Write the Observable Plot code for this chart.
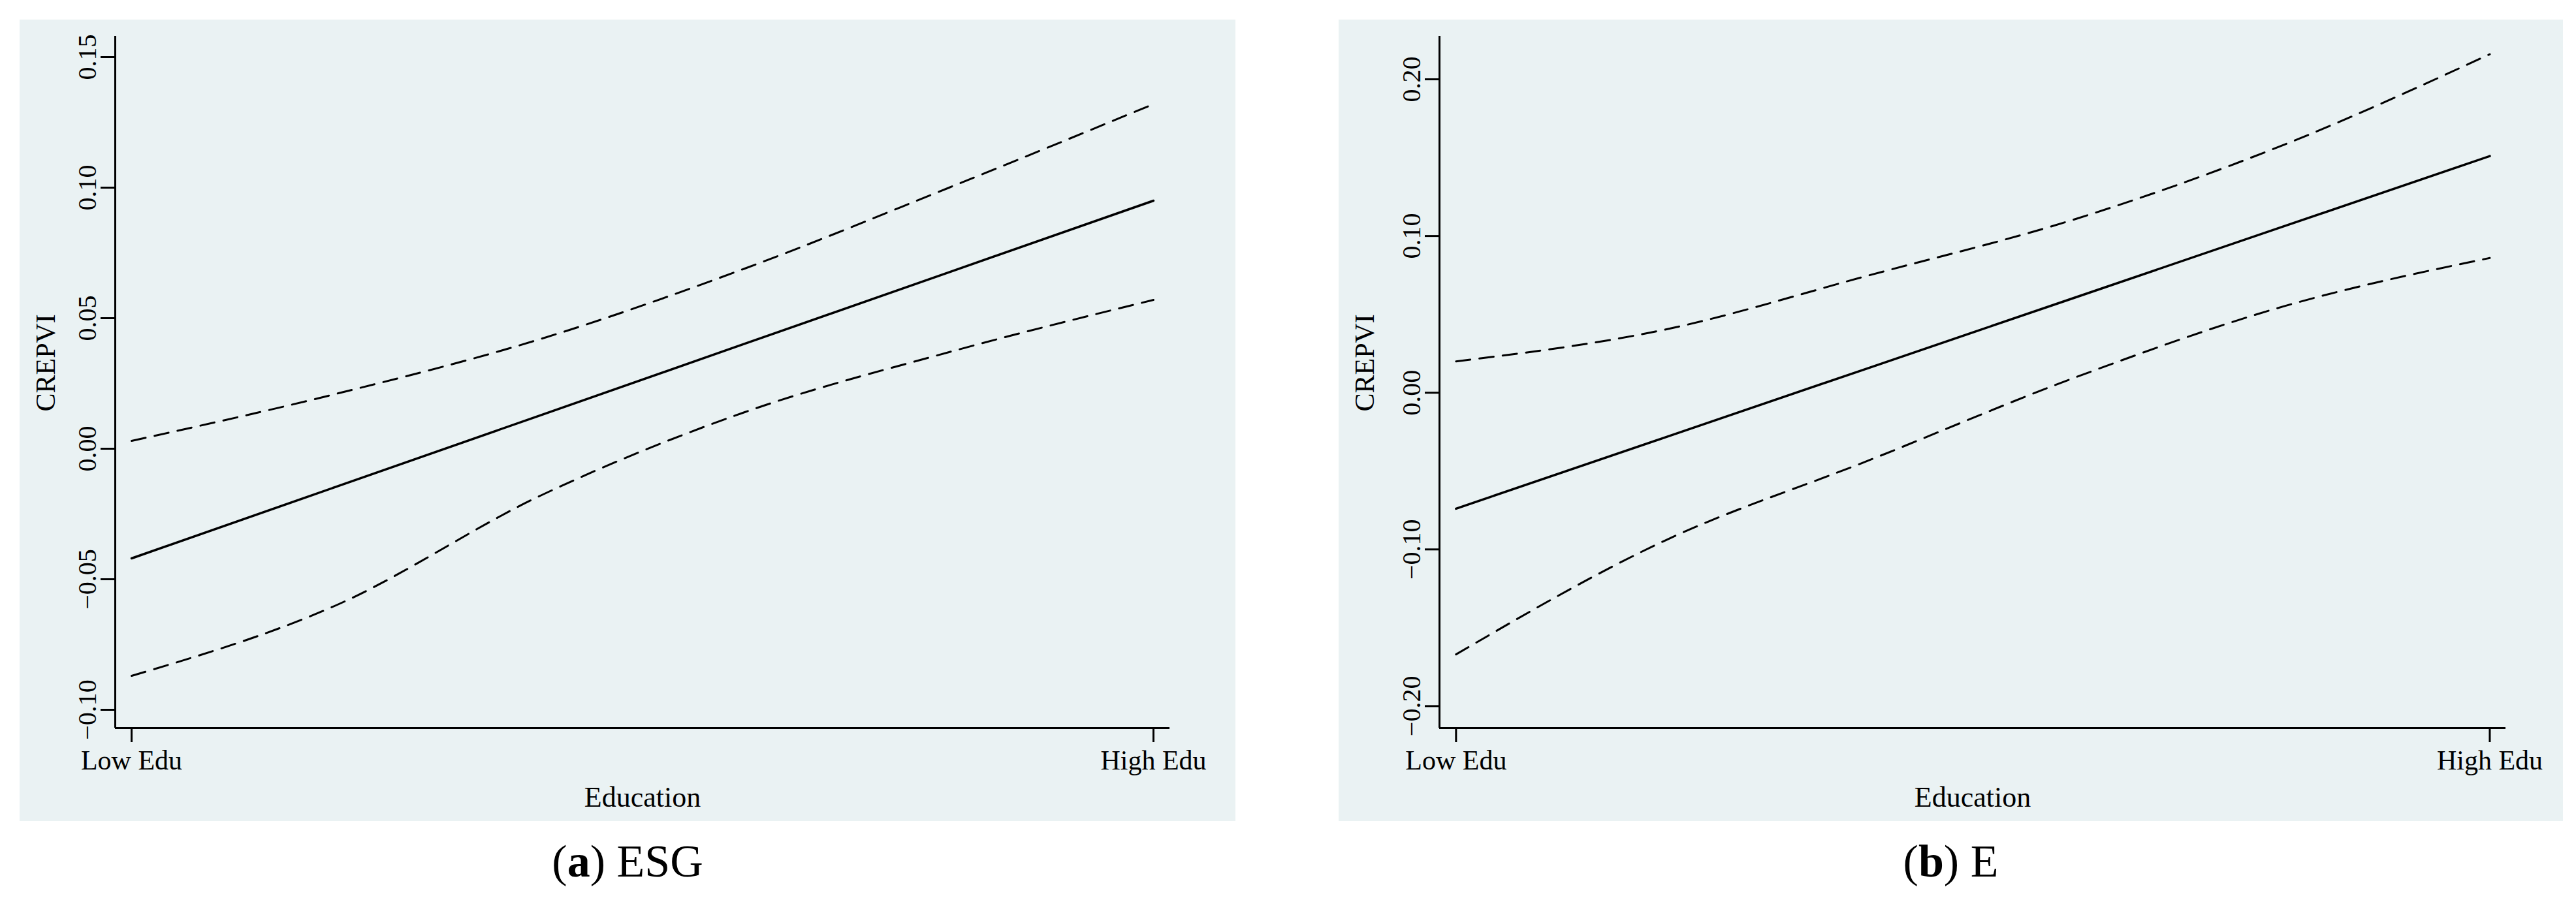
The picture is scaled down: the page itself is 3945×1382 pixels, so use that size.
<!DOCTYPE html>
<html><head><meta charset="utf-8">
<script src="https://cdn.jsdelivr.net/npm/d3@7"></script>
<script src="https://cdn.jsdelivr.net/npm/@observablehq/plot@0.6"></script>
<style>
body{margin:0;background:#fff;font-family:"Liberation Serif",serif;}
#wrap{position:relative;width:3945px;height:1382px;}
.panel{position:absolute;top:30px;}
.cap{position:absolute;top:1280px;font-size:70px;text-align:center;font-family:"Liberation Serif",serif;}
</style></head><body>
<div id="wrap">
<div class="panel" id="pa" style="left:30px"></div>
<div class="panel" id="pb" style="left:2050px"></div>
<div class="cap" style="left:30px;width:1862px">(<b>a</b>) ESG</div>
<div class="cap" style="left:2050px;width:1875px">(<b>b</b>) E</div>
</div>
<script>
const xPos = [0, 0.2, 0.4, 0.6, 0.8, 1];
const xTickLabels = ["Low Edu", "High Edu"];
const esgFit = [-0.042, -0.0146, 0.0128, 0.0402, 0.0676, 0.095];
const esgUpper = [0.003, 0.021, 0.042, 0.069, 0.100, 0.132];
const esgLower = [-0.087, -0.060, -0.018, 0.014, 0.037, 0.057];
const eFit = [-0.074, -0.029, 0.016, 0.061, 0.106, 0.151];
const eUpper = [0.020, 0.040, 0.075, 0.111, 0.158, 0.216];
const eLower = [-0.167, -0.095, -0.043, 0.010, 0.055, 0.086];
const esgTicks = [-0.10, -0.05, 0, 0.05, 0.10, 0.15];
const eTicks = [-0.20, -0.10, 0, 0.10, 0.20];

function panel(o){
  const rows = k => xPos.map((x,i)=>({x, y:k[i]}));
  return Plot.plot({
    width:o.w, height:1228,
    marginLeft:o.ml, marginRight:o.mr, marginTop:25, marginBottom:143,
    style:{background:"#eaf2f3", fontFamily:"Liberation Serif, serif", fontSize:"40px", color:"#000"},
    x:{domain:o.xd, range:[o.ml, o.w-o.mr]},
    y:{domain:o.yd},
    marks:[
      Plot.ruleX([o.xd[0]], {stroke:"#000", strokeWidth:3}),
      Plot.ruleY([o.yd[0]], {stroke:"#000", strokeWidth:3}),
      Plot.axisY(o.ticks, {tickSize:22, tickRotate:-90, tickFormat:d3.format(".2f"), tickPadding:8, strokeWidth:3, label:null, fontSize:40}),
      Plot.axisX([0,1], {tickSize:22, tickFormat:(d,i)=>xTickLabels[d], tickPadding:12, strokeWidth:3, label:null, fontSize:42}),
      Plot.text(["CREPVI"], {frameAnchor:"left", dx:-o.ml+40, dy:45, rotate:-90, fontSize:42}),
      Plot.text(["Education"], {frameAnchor:"bottom", dy:120, fontSize:44}),
      Plot.line(rows(o.up), {x:"x", y:"y", stroke:"#000", strokeWidth:3, strokeDasharray:"22,14", curve:"monotone-x"}),
      Plot.line(rows(o.lo), {x:"x", y:"y", stroke:"#000", strokeWidth:3, strokeDasharray:"22,14", curve:"monotone-x"}),
      Plot.line(rows(o.fit), {x:"x", y:"y", stroke:"#000", strokeWidth:3.5})
    ]
  });
}
document.getElementById("pa").append(panel({w:1862, ml:146, mr:101, xd:[-0.016,1.016], yd:[-0.107,0.158], ticks:esgTicks, fit:esgFit, up:esgUpper, lo:esgLower}));
document.getElementById("pb").append(panel({w:1875, ml:154, mr:88, xd:[-0.016,1.0155], yd:[-0.214,0.2275], ticks:eTicks, fit:eFit, up:eUpper, lo:eLower}));
</script>
</body></html>
